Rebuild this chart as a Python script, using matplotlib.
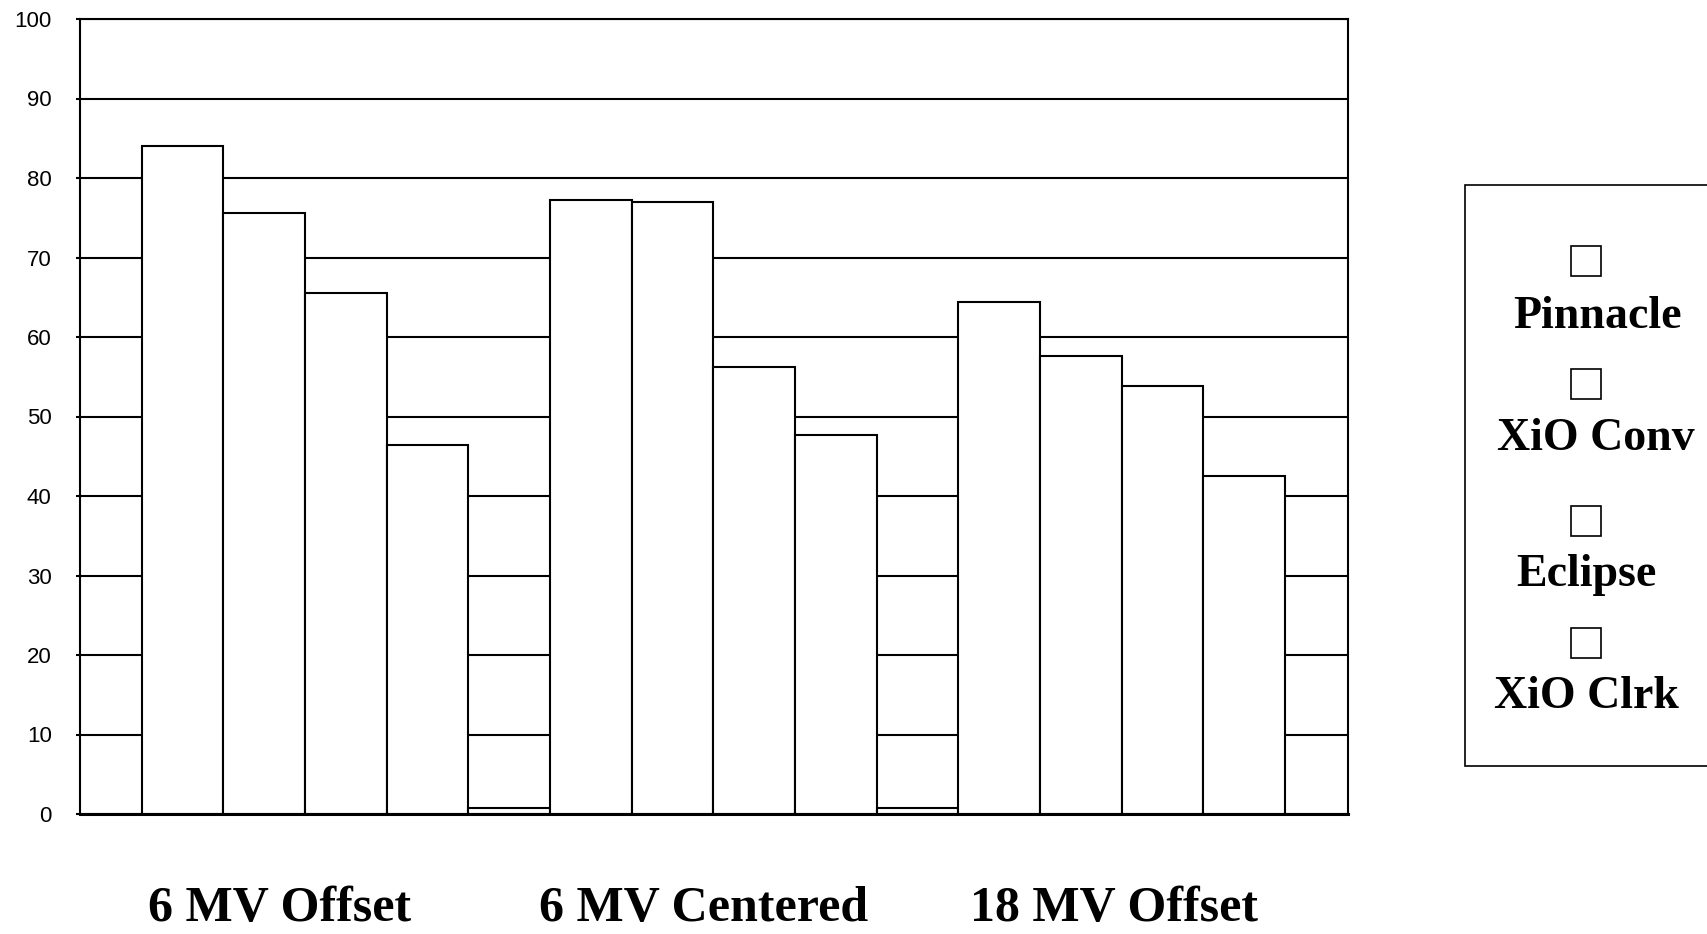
import matplotlib
matplotlib.use("Agg")
import matplotlib.pyplot as plt
from matplotlib.patches import Rectangle
from matplotlib.transforms import blended_transform_factory

categories = ["6 MV Offset", "6 MV Centered", "18 MV Offset"]
series_names = ["Pinnacle", "XiO Conv", "Eclipse", "XiO Clrk"]
pinnacle = [84.0, 77.2, 64.4]
xio_conv = [75.6, 77.0, 57.6]
eclipse = [65.5, 56.2, 53.8]
xio_clrk = [46.4, 47.7, 42.5]
spacer = [0.8, 0.8]          # small unnamed bars between groups
yticks = [0, 10, 20, 30, 40, 50, 60, 70, 80, 90, 100]

W, H = 1707, 934
fig = plt.figure(figsize=(W / 100, H / 100), dpi=100)
fig.patch.set_facecolor("white")

ax_l, ax_r, ax_t, ax_b = 79.5, 1348, 19, 814
ax = fig.add_axes([ax_l / W, 1 - ax_b / H, (ax_r - ax_l) / W, (ax_b - ax_t) / H])

# build bar sequence
values = []
series = [pinnacle, xio_conv, eclipse, xio_clrk]
for g in range(len(categories)):
    for s in series:
        values.append(s[g])
    if g < len(spacer):
        values.append(spacer[g])
pos = list(range(len(values)))

lw = 1.5
for y in yticks:
    ax.axhline(y, color="black", lw=lw, zorder=1)
ax.bar(pos, values, width=1.0, color="white", edgecolor="black", linewidth=lw, zorder=2)

ax.set_xlim(-1.26, len(values) - 1 + 0.5 + 0.77)
ax.set_ylim(0, 100)
ax.set_yticks(yticks)
ax.set_yticklabels([str(v) for v in yticks], fontsize=16, family="Liberation Sans")
ax.tick_params(axis="y", length=3, width=lw, pad=17, direction="out")
ax.set_xticks([])
for side in ["left", "right", "top", "bottom"]:
    ax.spines[side].set_linewidth(lw)
    ax.spines[side].set_color("black")
ax.spines["bottom"].set_linewidth(2.2)

# category labels
tr = blended_transform_factory(ax.transAxes, fig.transFigure)
for cx, lab in zip([0.158, 0.492, 0.8155], categories):
    ax.text(cx, 1 - 921 / H, lab, transform=tr, ha="center", va="baseline",
            fontsize=36, fontweight="bold", family="Liberation Serif")

# legend box (drawn manually: marker above label)
fig.patches.append(Rectangle((1465 / W, 1 - 766 / H), (W + 20 - 1465) / W, (766 - 185) / H,
                             transform=fig.transFigure, facecolor="white",
                             edgecolor="black", linewidth=1.2, clip_on=False))
sq_y = [261, 384, 521, 643]
tx_y = [317, 439, 575, 697]
tx_x = [1598, 1596, 1586, 1586]
sq = 30
for name, sy, ty, tx in zip(series_names, sq_y, tx_y, tx_x):
    fig.patches.append(Rectangle(((1586 - sq / 2) / W, 1 - (sy + sq / 2) / H), sq / W, sq / H,
                                 transform=fig.transFigure, facecolor="white",
                                 edgecolor="black", linewidth=1.2))
    fig.text(tx / W, 1 - ty / H, name, ha="center", va="center",
             fontsize=33, fontweight="bold", family="Liberation Serif")

fig.savefig("out.png", dpi=100)
